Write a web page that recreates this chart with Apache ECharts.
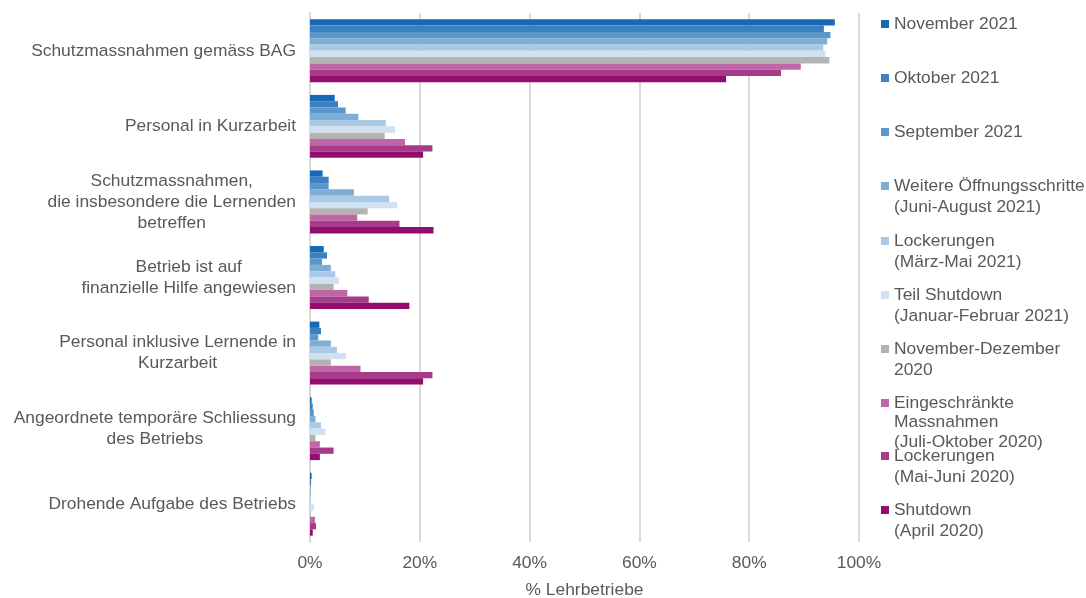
<!DOCTYPE html>
<html><head><meta charset="utf-8">
<script src="https://cdn.jsdelivr.net/npm/echarts@6/dist/echarts.min.js"></script>
<style>html,body{margin:0;padding:0;background:#fff}#c{width:1086px;height:598px}</style>
</head><body><div id="c"></div>
<script>
const categories = [
  'Schutzmassnahmen gemäss BAG',
  'Personal in Kurzarbeit',
  'Schutzmassnahmen,\ndie insbesondere die Lernenden\nbetreffen',
  'Betrieb ist auf\nfinanzielle Hilfe angewiesen',
  'Personal inklusive Lernende in\nKurzarbeit',
  'Angeordnete temporäre Schliessung\ndes Betriebs',
  'Drohende Aufgabe des Betriebs'
];
const seriesNames = [
  'November 2021',
  'Oktober 2021',
  'September 2021',
  'Weitere Öffnungsschritte\n(Juni-August 2021)',
  'Lockerungen\n(März-Mai 2021)',
  'Teil Shutdown\n(Januar-Februar 2021)',
  'November-Dezember\n2020',
  'Eingeschränkte\nMassnahmen\n(Juli-Oktober 2020)',
  'Lockerungen\n(Mai-Juni 2020)',
  'Shutdown\n(April 2020)'
];
const colors = ['#166ab3','#3b80c0','#5b97cb','#7eaed6','#a9c9e4','#d0e2f1','#b3b3b3','#bf67a6','#a63c89','#930d6e'];
const nov2021   = [95.6, 4.5, 2.3, 2.5, 1.7, 0.3, 0.3];
const okt2021   = [93.6, 5.1, 3.4, 3.1, 2.0, 0.5, 0.2];
const sep2021   = [94.8, 6.5, 3.4, 2.2, 1.5, 0.7, 0.1];
const juniAug21 = [94.2, 8.8, 8.0, 3.8, 3.8, 1.0, 0.1];
const maerzMai21= [93.5, 13.8, 14.4, 4.6, 4.9, 2.0, 0.1];
const janFeb21  = [93.9, 15.5, 15.9, 5.3, 6.6, 2.8, 0.7];
const novDez20  = [94.6, 13.6, 10.5, 4.3, 3.8, 1.0, 0.1];
const juliOkt20 = [89.4, 17.3, 8.6, 6.8, 9.2, 1.8, 0.9];
const maiJuni20 = [85.8, 22.3, 16.3, 10.7, 22.3, 4.3, 1.1];
const april20   = [75.8, 20.6, 22.5, 18.1, 20.6, 1.8, 0.5];
const seriesData = [nov2021, okt2021, sep2021, juniAug21, maerzMai21, janFeb21, novDez20, juliOkt20, maiJuni20, april20];
const xTicks = [0, 20, 40, 60, 80, 100];

const legendFirstLineY = [24, 78, 132, 186, 241, 295, 349, 403, 456, 510];
const textColor = '#595959';
const font = 'Liberation Sans, Arial, sans-serif';
const FS = 17.4;

const legends = seriesNames.map((name, i) => {
  const n = name.split('\n').length;
  const LH = n === 3 ? 19.5 : 21;
  const H = 8 + (n - 1) * LH;
  const icon = n === 1 ? 'rect'
    : 'path://M0,0h8v8h-8zM0,' + H + 'h0.05v0.05h-0.05z';
  return {
    data: [name],
    orient: 'vertical',
    left: 881,
    top: legendFirstLineY[i] - LH / 2,
    padding: 0,
    itemWidth: 8,
    itemHeight: H,
    icon: icon,
    selectedMode: false,
    textStyle: { color: textColor, fontSize: FS, fontFamily: font, lineHeight: LH }
  };
});

const chart = echarts.init(document.getElementById('c'), null, { renderer: 'canvas' });
chart.setOption({
  animation: false,
  color: colors,
  grid: { left: 310, right: 227, top: 13, bottom: 56, containLabel: false, outerBoundsMode: 'none' },
  legend: legends,
  xAxis: {
    type: 'value', min: 0, max: 100, interval: 20,
    name: '% Lehrbetriebe', nameLocation: 'middle', nameGap: 40,
    nameTextStyle: { color: textColor, fontSize: FS, fontFamily: font },
    axisLine: { show: false }, axisTick: { show: false },
    axisLabel: { formatter: v => xTicks.includes(v) ? v + '%' : '', color: textColor, fontSize: FS, fontFamily: font, margin: 13 },
    splitLine: { show: true, lineStyle: { color: '#d9d9d9', width: 2 } }
  },
  yAxis: {
    type: 'category', data: categories, inverse: true,
    axisLine: { show: true, lineStyle: { color: '#d9d9d9', width: 2 } },
    axisTick: { show: false },
    axisLabel: {
      margin: 14, color: textColor, fontSize: FS, fontFamily: font, lineHeight: 21, align: 'right',
      formatter: v => v.split('\n').map(s => '{a|' + s + '}').join('\n'),
      rich: { a: { align: 'center', color: textColor, fontSize: FS, fontFamily: font, lineHeight: 21 } }
    }
  },
  series: seriesNames.map((name, i) => ({
    name, type: 'bar', data: seriesData[i], barGap: '0%', barCategoryGap: '16.7%',
    itemStyle: { color: colors[i] }
  }))
});
</script></body></html>
